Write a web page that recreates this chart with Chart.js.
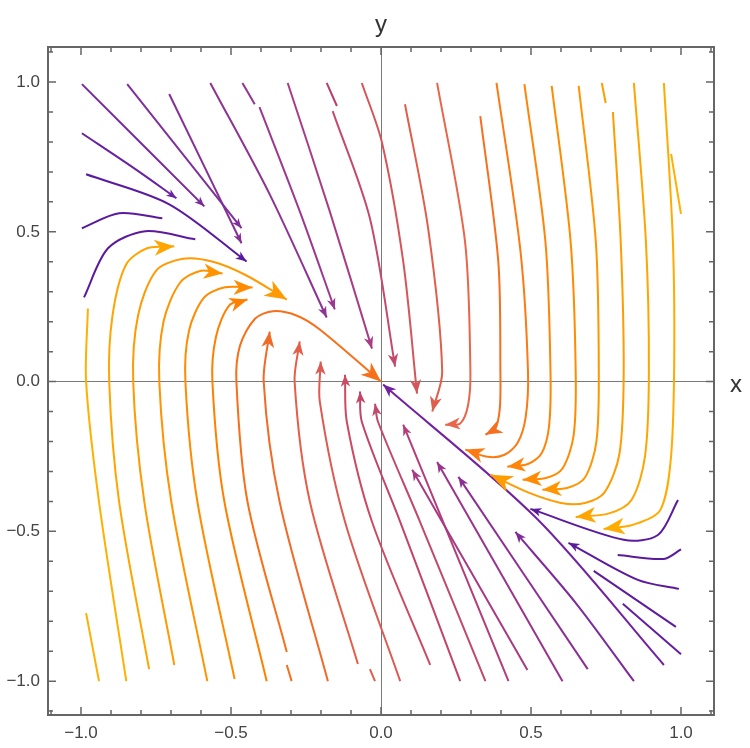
<!DOCTYPE html>
<html><head><meta charset="utf-8">
<script src="https://cdn.jsdelivr.net/npm/chart.js@4/dist/chart.umd.min.js"></script>
<style>html,body{margin:0;padding:0;background:#fff}#wrap{width:750px;height:748px}</style>
</head><body><div id="wrap"><canvas id="c" width="750" height="748"></canvas></div>
<script>
const tickValues = [-1.0, -0.5, 0.0, 0.5, 1.0];
const axisLabels = ["x", "y"];
// streamlines: [x,y] points
const streamlines = [
 [[-0.997,0.993],[-0.589,0.585]],
 [[-0.997,0.829],[-0.82,0.71],[-0.682,0.612]],
 [[-0.983,0.692],[-0.706,0.592],[-0.448,0.401]],
 [[-0.997,0.512],[-0.873,0.562],[-0.729,0.545]],
 [[-0.990,0.281],[-0.910,0.445],[-0.786,0.502],[-0.619,0.475]],
 [[-0.846,0.993],[-0.465,0.512]],
 [[-0.706,0.960],[-0.465,0.462]],
 [[-0.569,0.997],[-0.371,0.625],[-0.181,0.214]],
 [[-0.462,0.997],[-0.421,0.926]],
 [[-0.405,0.916],[-0.271,0.569],[-0.154,0.241]],
 [[-0.311,0.997],[-0.171,0.569],[-0.030,0.110]],
 [[-0.181,0.997],[-0.147,0.920]],
 [[-0.161,0.903],[-0.037,0.545],[0.047,0.05]],
 [[-0.064,0.997],[0.003,0.799],[0.074,0.401],[0.120,-0.040]],
 [[0.08,0.926],[0.157,0.512],[0.204,0.033],[0.171,-0.100]],
 [[0.187,0.997],[0.28,0.468],[0.298,0.033],[0.29,-0.08],[0.264,-0.14],[0.214,-0.144]],
 [[0.331,0.886],[0.391,0.401],[0.398,0.033],[0.396,-0.09],[0.38,-0.16],[0.348,-0.177]],
 [[0.385,0.997],[0.465,0.435],[0.49,0.033],[0.482,-0.12],[0.455,-0.205],[0.41,-0.245],[0.355,-0.251],[0.281,-0.227]],
 [[0.478,0.993],[0.548,0.468],[0.565,0.033],[0.56,-0.15],[0.535,-0.24],[0.49,-0.275],[0.421,-0.284]],
 [[0.569,0.987],[0.632,0.468],[0.649,0.033],[0.642,-0.18],[0.605,-0.29],[0.55,-0.322],[0.472,-0.328]],
 [[0.659,0.987],[0.716,0.468],[0.726,0.033],[0.718,-0.2],[0.68,-0.32],[0.62,-0.355],[0.538,-0.361]],
 [[0.773,0.90],[0.799,0.468],[0.809,0.033],[0.795,-0.24],[0.745,-0.37],[0.68,-0.405],[0.6,-0.405],[0.49,-0.37],[0.365,-0.311]],
 [[0.736,0.997],[0.749,0.93]],
 [[0.843,0.997],[0.883,0.468],[0.893,0.033],[0.88,-0.25],[0.835,-0.395],[0.76,-0.44],[0.649,-0.452]],
 [[0.943,0.997],[0.973,0.468],[0.977,0.033],[0.965,-0.27],[0.93,-0.43],[0.84,-0.478],[0.742,-0.492]],
 [[0.967,0.76],[1.0,0.56]],
 [[0.99,-0.395],[0.923,-0.512],[0.809,-0.528],[0.498,-0.425]],
 [[1.0,-0.56],[0.943,-0.592],[0.789,-0.579]],
 [[0.993,-0.692],[0.856,-0.662],[0.625,-0.538]],
 [[0.983,-0.819],[0.709,-0.632]],
 [[1.0,-0.91],[0.806,-0.742]],
 [[0.943,-0.946],[0.52,-0.458],[0.007,-0.01]],
 [[0.843,-1.0],[0.65,-0.74],[0.448,-0.502]],
 [[0.689,-0.96],[0.258,-0.318]],
 [[0.605,-1.0],[0.187,-0.268]],
 [[0.488,-0.963],[0.104,-0.294]],
 [[0.425,-1.0],[0.074,-0.144]],
 [[0.348,-1.0],[0.130,-0.468],[-0.010,-0.134],[-0.020,-0.074]],
 [[0.264,-1.0],[0.064,-0.468],[-0.064,-0.134],[-0.070,-0.033]],
 [[0.164,-0.946],[-0.030,-0.468],[-0.114,-0.134],[-0.120,0.023]],
 [[0.064,-1.0],[-0.120,-0.468],[-0.204,-0.067],[-0.201,0.067]],
 [[-0.037,-0.96],[-0.020,-1.0]],
 [[-0.077,-0.943],[-0.237,-0.401],[-0.288,0],[-0.271,0.134]],
 [[-0.177,-1.0],[-0.338,-0.401],[-0.391,0],[-0.371,0.167]],
 [[-0.314,-0.903],[-0.445,-0.401],[-0.482,0],[-0.47,0.12],[-0.42,0.21],[-0.36,0.235],[-0.28,0.22],[-0.204,0.174],[0,0]],
 [[-0.314,-0.946],[-0.298,-1.0]],
 [[-0.381,-1.0],[-0.522,-0.401],[-0.562,0],[-0.55,0.15],[-0.505,0.255],[-0.445,0.274]],
 [[-0.488,-0.993],[-0.612,-0.401],[-0.652,0],[-0.64,0.17],[-0.59,0.28],[-0.52,0.315],[-0.428,0.314]],
 [[-0.579,-1.0],[-0.699,-0.401],[-0.739,0],[-0.725,0.2],[-0.67,0.33],[-0.6,0.37],[-0.528,0.361]],
 [[-0.689,-0.946],[-0.789,-0.401],[-0.826,0],[-0.81,0.22],[-0.75,0.37],[-0.66,0.41],[-0.56,0.4],[-0.45,0.355],[-0.314,0.274]],
 [[-0.773,-0.96],[-0.873,-0.401],[-0.906,0],[-0.895,0.22],[-0.85,0.39],[-0.78,0.445],[-0.689,0.452]],
 [[-0.849,-1.0],[-0.94,-0.401],[-0.983,0],[-0.977,0.244]],
 [[-0.983,-0.773],[-0.94,-1.0]]
];
const lineColors = [
 "#7a2a9c","#6a22a0","#5a1aa0","#5a1aa0","#5d1a9e","#80309a","#853096","#8e3294","#943592","#9c3890",
 "#a83d86","#b8406e","#c44a6c","#d4555a","#e05e4c","#e8664a","#f47020","#fb7a14","#ff850a","#ff8c00",
 "#ff9500","#ff9c00","#ff9c00","#ffa500","#ffab00","#ffb000",
 "#5a1a9e","#5a1a9e","#5c1a9e","#5e1c9e","#641e9e","#7222a0",
 "#7e2a9a","#8c2f94","#9a338c","#a83a84","#b43e78","#c04a6c","#c44468","#cc4b62","#dc5a52","#e05e4c",
 "#e45e48","#f06a28","#f86f1a","#f86f1a","#ff8000","#ff8c00","#ff9300","#ff9a00","#ffa500","#ffb000","#ffb000"
];
const arrowSizes = [
 10,10,11,0,0,10,10,11,0,11,12,0,13,14,15,15,17,19,18,19,19,22,0,20,21,0,
 11,0,11,0,0,13,11,11,11,11,11,12,12,12,13,0,
 14,16,20,0,18,19,19,22,20,0,0
];
const XMIN=-1.11, XMAX=1.11, YMIN=-1.113, YMAX=1.117;

const datasets = streamlines.map((pts,i)=>({
  data: pts.map(p=>({x:p[0],y:p[1]})),
  borderColor: lineColors[i], borderWidth: 2, showLine:true,
  pointRadius:0, tension:0.3, fill:false, arrow: arrowSizes[i]
}));

const fmt = v => (v<0?"\u2212":"") + Math.abs(v).toFixed(1);

const decor = {
  id:'decor',
  afterDatasetsDraw(chart){
    const c=chart.ctx, xs=chart.scales.x, ys=chart.scales.y, a=chart.chartArea;
    chart.data.datasets.forEach((ds,i)=>{
      if(!ds.arrow) return;
      const els=chart.getDatasetMeta(i).data, n=els.length;
      const p1=els[n-1], p0=els[n-2];
      let dx=p1.x-p0.x, dy=p1.y-p0.y;
      if(p1.cp1x!==undefined){ const ex=p1.x-p1.cp1x, ey=p1.y-p1.cp1y; if(Math.hypot(ex,ey)>1){dx=ex;dy=ey;} }
      const ang=Math.atan2(dy,dx), L=ds.arrow;
      c.save(); c.translate(p1.x,p1.y); c.rotate(ang);
      c.fillStyle=ds.borderColor; c.beginPath();
      c.moveTo(0,0); c.lineTo(-L,-0.4*L); c.lineTo(-0.72*L,0); c.lineTo(-L,0.4*L); c.closePath(); c.fill();
      c.restore();
    });
    c.save(); c.strokeStyle='#666'; c.lineWidth=2;
    c.strokeRect(a.left,a.top,a.right-a.left,a.bottom-a.top);
    c.lineWidth=1.5;
    for(let k=-11;k<=11;k++){
      const v=k/10, major=(k%5===0), len=major?8:5;
      const px=xs.getPixelForValue(v), py=ys.getPixelForValue(v);
      c.beginPath();
      c.moveTo(px,a.bottom); c.lineTo(px,a.bottom-len);
      c.moveTo(px,a.top); c.lineTo(px,a.top+len);
      c.moveTo(a.left,py); c.lineTo(a.left+len,py);
      c.moveTo(a.right,py); c.lineTo(a.right-len,py);
      c.stroke();
    }
    c.fillStyle='#333'; c.font='24px "Liberation Sans", Arial, sans-serif';
    c.textAlign='left'; c.textBaseline='middle';
    c.fillText(axisLabels[0], a.right+16, ys.getPixelForValue(0)+4);
    c.textAlign='center'; c.textBaseline='bottom';
    c.fillText(axisLabels[1], xs.getPixelForValue(0), a.top-10);
    c.restore();
  }
};

const gridCfg = { drawTicks:false, color: ctx => (ctx.tick && Math.abs(ctx.tick.value)<1e-9) ? '#7a7a7a' : 'rgba(0,0,0,0)', lineWidth:1 };
const tickCfg = { font:{size:17, family:'"Liberation Sans", Arial, sans-serif'}, color:'#444', callback: v=>fmt(v), autoSkip:false, maxRotation:0 };

new Chart(document.getElementById('c'),{
  type:'scatter',
  data:{datasets},
  options:{
    responsive:false, animation:false, events:[],
    layout:{padding:{left:0,right:36,top:47,bottom:0}},
    plugins:{legend:{display:false},tooltip:{enabled:false}},
    scales:{
      x:{type:'linear',min:XMIN,max:XMAX,border:{display:false},grid:gridCfg,
         ticks:Object.assign({padding:8},tickCfg),
         afterBuildTicks:s=>{s.ticks=tickValues.map(v=>({value:v}));},
         afterFit:s=>{s.height=33;}},
      y:{type:'linear',min:YMIN,max:YMAX,border:{display:false},grid:gridCfg,
         ticks:Object.assign({padding:8},tickCfg),
         afterBuildTicks:s=>{s.ticks=tickValues.map(v=>({value:v}));},
         afterFit:s=>{s.width=48;}}
    }
  },
  plugins:[decor]
});
</script></body></html>
